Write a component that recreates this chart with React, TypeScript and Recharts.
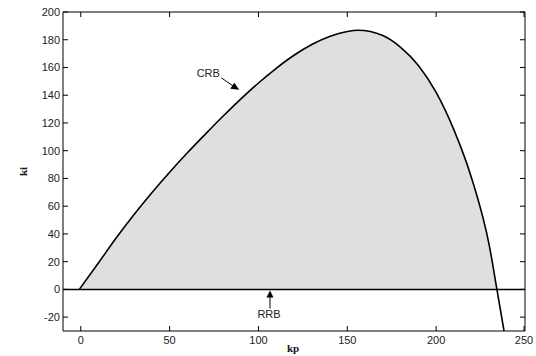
import React from 'react'

//* Recharts
import { Area, ComposedChart, Line, ReferenceDot, ReferenceLine, XAxis, YAxis } from 'recharts'

// stability boundary (CRB) sampled along kp
const kpValues = [-0.8, 10, 20, 30, 40, 50, 60, 70, 80, 90, 100, 110, 120, 130, 140, 150, 156, 170, 180, 190, 200, 210, 220, 230, 234.2, 238.2]
const kiValues = [0, 19.2, 37.2, 54, 69.7, 84.5, 98.5, 111.8, 124.8, 137.2, 148.8, 159.4, 168.8, 176.6, 182.4, 185.9, 186.8, 183, 174.5, 161.5, 142, 115, 80, 31, 0, -30]

const kpTicks = [0, 50, 100, 150, 200, 250]
const kiTicks = [-20, 0, 20, 40, 60, 80, 100, 120, 140, 160, 180, 200]

// arrow tips for the two boundary labels
const crbPoint = { kp: 89.2, ki: 143.9 }
const rrbPoint = { kp: 106.5, ki: 0 }

const data = kpValues.map((kp, i) => ({
    kp,
    ki: kiValues[i],
    region: kiValues[i] >= 0 ? kiValues[i] : null
}))

const fontFamily = 'Arial, "Liberation Sans", sans-serif'
const TICK = 5
const GAP = 9

// MATLAB style ticks: marks point into the plot box
const BottomTick = (props: any) => {
    const { x, y, payload } = props
    const axisY = y - GAP
    return (
        <g>
            <line x1={x} y1={axisY} x2={x} y2={axisY - TICK} stroke="#000" />
            <text x={x} y={axisY + 13} textAnchor="middle" fontFamily={fontFamily} fontSize={11} fill="#222">{payload.value}</text>
        </g>
    )
}

const LeftTick = (props: any) => {
    const { x, y, payload } = props
    const axisX = x + GAP
    return (
        <g>
            <line x1={axisX} y1={y} x2={axisX + TICK} y2={y} stroke="#000" />
            <text x={axisX - 3} y={y + 4} textAnchor="end" fontFamily={fontFamily} fontSize={11} fill="#222">{payload.value}</text>
        </g>
    )
}

const TopTick = (props: any) => {
    const { x, y } = props
    return <line x1={x} y1={y} x2={x} y2={y + TICK} stroke="#000" />
}

const RightTick = (props: any) => {
    const { x, y } = props
    return <line x1={x} y1={y} x2={x - TICK} y2={y} stroke="#000" />
}

const CrbLabel = (props: any) => {
    const { cx, cy } = props
    return (
        <g>
            <line x1={cx - 18} y1={cy - 12} x2={cx - 5} y2={cy - 3} stroke="#000" strokeWidth={1} />
            <polygon points={`${cx},${cy} ${cx - 9},${cy - 1} ${cx - 5},${cy - 7}`} fill="#000" />
            <text x={cx - 31} y={cy - 13} textAnchor="middle" fontFamily={fontFamily} fontSize={11} fill="#222">CRB</text>
        </g>
    )
}

const RrbLabel = (props: any) => {
    const { cx, cy } = props
    return (
        <g>
            <line x1={cx} y1={cy + 5} x2={cx} y2={cy + 19} stroke="#000" strokeWidth={1} />
            <polygon points={`${cx},${cy + 1} ${cx - 3.5},${cy + 8} ${cx + 3.5},${cy + 8}`} fill="#000" />
            <text x={cx - 1} y={cy + 29} textAnchor="middle" fontFamily={fontFamily} fontSize={11} fill="#222">RRB</text>
        </g>
    )
}

function App() {
    return (
        <div style={{ position: 'absolute', left: 0, top: 0, width: 536, height: 356, background: '#fff' }}>
            <ComposedChart width={536} height={356} data={data} margin={{ top: 11, right: 10, bottom: 0, left: 0 }}>
                <XAxis
                    xAxisId="bottom"
                    dataKey="kp"
                    type="number"
                    domain={[-10, 250]}
                    ticks={kpTicks}
                    allowDataOverflow
                    height={25}
                    stroke="#000"
                    tickLine={false}
                    tickSize={0}
                    tickMargin={GAP}
                    tick={BottomTick}
                    label={{
                        content: (p: any) => (
                            <text x={p.viewBox.x + p.viewBox.width / 2 - 1} y={352} textAnchor="middle"
                                fontFamily='"Times New Roman", "Liberation Serif", serif' fontWeight="bold" fontSize={11} fill="#111">kp</text>
                        )
                    }}
                />
                <XAxis
                    xAxisId="top"
                    orientation="top"
                    dataKey="kp"
                    type="number"
                    domain={[-10, 250]}
                    ticks={kpTicks}
                    allowDataOverflow
                    height={1}
                    stroke="#000"
                    tickLine={false}
                    tickSize={0}
                    tickMargin={0}
                    tick={TopTick}
                />
                <YAxis
                    yAxisId="left"
                    type="number"
                    domain={[-30, 200]}
                    ticks={kiTicks}
                    allowDataOverflow
                    width={63}
                    stroke="#000"
                    tickLine={false}
                    tickSize={0}
                    tickMargin={GAP}
                    tick={LeftTick}
                    label={{
                        content: (p: any) => {
                            const cy = p.viewBox.y + p.viewBox.height / 2
                            return (
                                <text x={27} y={cy} transform={`rotate(-90 27 ${cy})`} textAnchor="middle"
                                    fontFamily='"Times New Roman", "Liberation Serif", serif' fontWeight="bold" fontSize={11} fill="#111">ki</text>
                            )
                        }
                    }}
                />
                <YAxis
                    yAxisId="right"
                    orientation="right"
                    type="number"
                    domain={[-30, 200]}
                    ticks={kiTicks}
                    allowDataOverflow
                    width={1}
                    stroke="#000"
                    tickLine={false}
                    tickSize={0}
                    tickMargin={0}
                    tick={RightTick}
                />
                <Area
                    xAxisId="bottom"
                    yAxisId="left"
                    type="monotone"
                    dataKey="region"
                    baseValue={0}
                    fill="#dfdfdf"
                    fillOpacity={1}
                    stroke="none"
                    connectNulls={false}
                    isAnimationActive={false}
                />
                <ReferenceLine xAxisId="bottom" yAxisId="left" y={0} stroke="#000" strokeWidth={1.5} />
                <Line
                    xAxisId="bottom"
                    yAxisId="left"
                    type="monotone"
                    dataKey="ki"
                    stroke="#000"
                    strokeWidth={1.6}
                    dot={false}
                    isAnimationActive={false}
                />
                <ReferenceDot xAxisId="bottom" yAxisId="left" x={crbPoint.kp} y={crbPoint.ki} shape={CrbLabel} />
                <ReferenceDot xAxisId="bottom" yAxisId="left" x={rrbPoint.kp} y={rrbPoint.ki} shape={RrbLabel} />
            </ComposedChart>
        </div>
    )
}

export default App
